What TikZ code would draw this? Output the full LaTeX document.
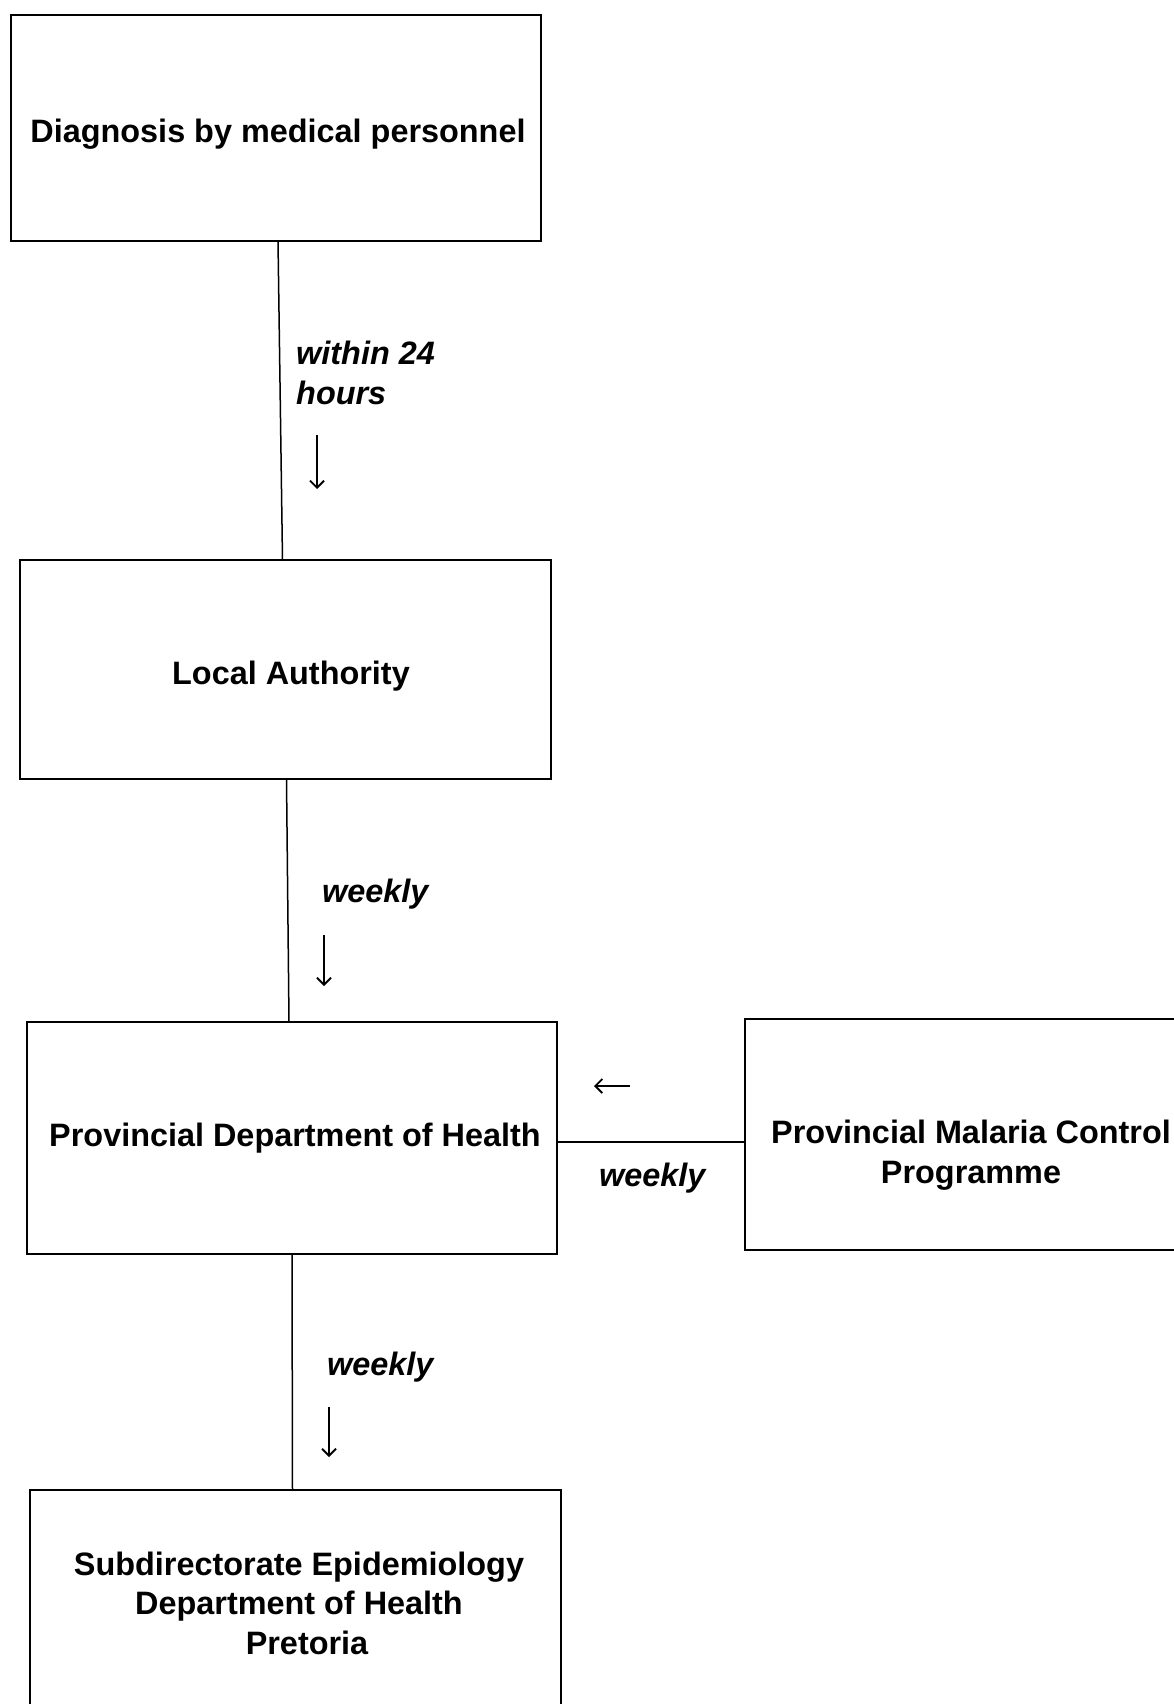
\documentclass[tikz,border=0pt]{standalone}
\usepackage{fontspec}
\setmainfont{Liberation Sans}
\usetikzlibrary{arrows.meta}
\tikzset{
  box/.style={draw, line width=2.3pt, inner sep=0pt, outer sep=0pt},
  boxtext/.style={inner sep=0pt, align=center, font=\fontsize{32.4}{39.5}\selectfont\bfseries},
  lbl/.style={inner sep=0pt, align=left, anchor=west, font=\fontsize{32.4}{40}\selectfont\bfseries\itshape},
  conn/.style={line width=1.5pt},
  sym/.style={line width=1.8pt, -{Straight Barb[length=7pt,width=14pt,line width=1.8pt]}}
}
\begin{document}
\begin{tikzpicture}[x=1pt,y=-1pt]
\useasboundingbox (0,0) rectangle (1174,1704);
\clip (0,0) rectangle (1174,1704);
\fill[white] (0,0) rectangle (1174,1704);

\node[box, minimum width=530pt, minimum height=226pt] (b1) at (276,128) {};
\node[box, minimum width=531pt, minimum height=219pt] (b2) at (285.5,669.5) {};
\node[box, minimum width=530pt, minimum height=232pt] (b3) at (292,1138) {};
\node[box, minimum width=456pt, minimum height=231pt] (b4) at (973,1134.5) {};
\node[box, minimum width=531pt, minimum height=226pt] (b5) at (295.5,1603) {};

\node[boxtext] (t1) at (278,134) {Diagnosis by medical personnel};
\node[boxtext] (t2) at (291,676) {Local Authority};
\node[boxtext] (t3) at (295,1138) {Provincial Department of Health};
\node[boxtext] (t4) at (971,1155) {Provincial Malaria Control\\Programme};
\node[boxtext] (t5) at (299,1603) {Subdirectorate Epidemiology\\Department of Health\\\hspace*{16pt}Pretoria};

\draw[conn] ([xshift=2pt]b1.south) -- ([xshift=-3pt]b2.north);
\draw[conn] ([xshift=1pt]b2.south) -- ([xshift=-3pt]b3.north);
\draw[conn] (b3.south) -- ([xshift=-3pt]b5.north);
\draw[conn] ([yshift=-4pt]b3.east) -- ([yshift=-4pt]b3.east -| b4.west);

\node[lbl] (l1) at (296,373) {within 24\\hours};
\node[lbl] (l2) at (322,894) {weekly};
\node[lbl] (l3) at (599,1178) {weekly};
\node[lbl] (l4) at (327,1367) {weekly};

\coordinate (a1s) at (317,435); \coordinate (a1e) at (317,489);
\coordinate (a2s) at (324,935); \coordinate (a2e) at (324,986);
\coordinate (a3s) at (329,1407); \coordinate (a3e) at (329,1457);
\coordinate (a4s) at (630,1086); \coordinate (a4e) at (594,1086);
\draw[sym] (a1s) -- (a1e);
\draw[sym] (a2s) -- (a2e);
\draw[sym] (a3s) -- (a3e);
\draw[sym] (a4s) -- (a4e);
\end{tikzpicture}
\end{document}
